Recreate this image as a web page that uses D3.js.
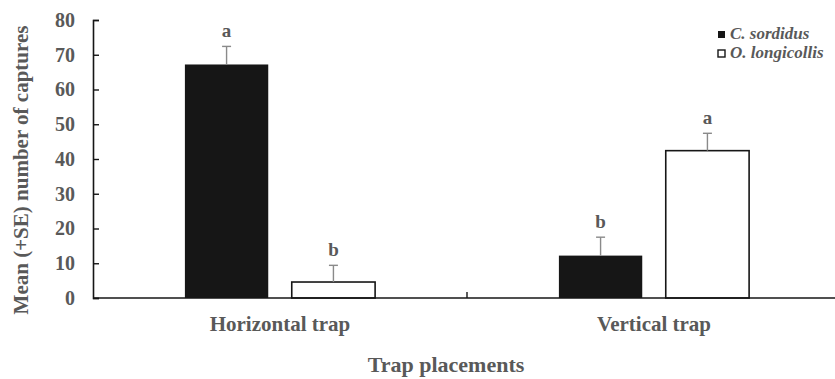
<!DOCTYPE html>
<html>
<head>
<meta charset="utf-8">
<script src="https://cdn.jsdelivr.net/npm/d3@7"></script>
<style>
body { margin: 0; background: #fff; }
text { font-family: "Liberation Serif", "Times New Roman", serif; font-weight: bold; fill: #595959; }
</style>
</head>
<body>
<svg width="835" height="379"></svg>
<script>
var placements = ["Horizontal trap", "Vertical trap"];
var species = ["C. sordidus", "O. longicollis"];
var sordidusMean = [67.2, 12.2];
var sordidusSE = [5.2, 5.3];
var longicollisMean = [4.6, 42.4];
var longicollisSE = [4.8, 5.0];
var sordidusLetters = ["a", "b"];
var longicollisLetters = ["b", "a"];
var yTicks = [0, 10, 20, 30, 40, 50, 60, 70, 80];

var rows = [];
placements.forEach(function(p, i){
  rows.push({place: p, sp: species[0], mean: sordidusMean[i], se: sordidusSE[i], letter: sordidusLetters[i]});
  rows.push({place: p, sp: species[1], mean: longicollisMean[i], se: longicollisSE[i], letter: longicollisLetters[i]});
});

var svg = d3.select('svg');

var scaleY = d3.scaleLinear().domain([0, 80]).range([298, 20]);
var scaleX = d3.scaleBand().domain(placements).range([93, 841]);
var scaleX1 = d3.scaleBand().domain(species).range([0, scaleX.bandwidth()])
  .paddingInner(0.22).paddingOuter(0.86);
var fill = d3.scaleOrdinal().domain(species).range(["#161616", "#ffffff"]);

// bars
svg.selectAll('.bar')
  .data(rows)
  .enter()
  .append('rect')
  .attr('class', 'bar')
  .attr('x', function(d){ return scaleX(d.place) + scaleX1(d.sp); })
  .attr('y', function(d){ return scaleY(d.mean); })
  .attr('width', scaleX1.bandwidth())
  .attr('height', function(d){ return scaleY(0) - scaleY(d.mean); })
  .attr('fill', function(d){ return fill(d.sp); })
  .attr('stroke', '#161616')
  .attr('stroke-width', function(d){ return d.sp == species[1] ? 1.6 : 0; });

// error bars
var err = svg.selectAll('.err')
  .data(rows)
  .enter()
  .append('g')
  .attr('class', 'err')
  .attr('transform', function(d){
    return 'translate(' + (scaleX(d.place) + scaleX1(d.sp) + scaleX1.bandwidth() / 2) + ',0)';
  });

err.append('line')
  .attr('y1', function(d){ return scaleY(d.mean); })
  .attr('y2', function(d){ return scaleY(d.mean + d.se); })
  .attr('stroke', '#8a8a8a').attr('stroke-width', 1.4);

err.append('line')
  .attr('x1', -4.5).attr('x2', 4.5)
  .attr('y1', function(d){ return scaleY(d.mean + d.se); })
  .attr('y2', function(d){ return scaleY(d.mean + d.se); })
  .attr('stroke', '#8a8a8a').attr('stroke-width', 1.4);

err.append('text')
  .attr('y', function(d){ return scaleY(d.mean + d.se) - 9; })
  .attr('text-anchor', 'middle')
  .style('font-size', '19px')
  .text(function(d){ return d.letter; });

// y axis
var yAxis = svg.append('g')
  .attr('transform', 'translate(93,0)')
  .call(d3.axisLeft(scaleY).tickValues(yTicks).tickSizeInner(-6).tickSizeOuter(-6).tickPadding(18));
yAxis.select('.domain').attr('stroke', '#161616').attr('stroke-width', 1.6);
yAxis.selectAll('.tick line').attr('stroke', '#161616').attr('stroke-width', 1.4);
yAxis.selectAll('.tick text')
  .attr('fill', '#595959')
  .style('font-family', '"Liberation Serif", serif')
  .style('font-weight', 'bold')
  .style('font-size', '20px');

// x axis
var xAxis = svg.append('g')
  .attr('transform', 'translate(0,298)');
xAxis.append('line')
  .attr('x1', scaleX.range()[0]).attr('x2', scaleX.range()[1])
  .attr('stroke', '#161616').attr('stroke-width', 1.6);
xAxis.selectAll('.xtick')
  .data(placements.slice(1))
  .enter()
  .append('line')
  .attr('x1', function(d){ return scaleX(d); })
  .attr('x2', function(d){ return scaleX(d); })
  .attr('y1', 0).attr('y2', -6)
  .attr('stroke', '#161616').attr('stroke-width', 1.4);
xAxis.selectAll('.xlabel')
  .data(placements)
  .enter()
  .append('text')
  .attr('x', function(d){ return scaleX(d) + scaleX.bandwidth() / 2; })
  .attr('y', 33)
  .attr('text-anchor', 'middle')
  .style('font-size', '21px')
  .text(function(d){ return d; });

// axis titles
svg.append('text')
  .attr('transform', 'translate(28,170) rotate(-90)')
  .attr('text-anchor', 'middle')
  .style('font-size', '21px')
  .text('Mean (+SE) number of captures');

svg.append('text')
  .attr('x', 446).attr('y', 372)
  .attr('text-anchor', 'middle')
  .style('font-size', '22px')
  .text('Trap placements');

// legend
var legend = svg.selectAll('.legend')
  .data(species)
  .enter()
  .append('g')
  .attr('class', 'legend')
  .attr('transform', function(d, i){ return 'translate(718,' + (31 + i * 19) + ')'; });

legend.append('rect')
  .attr('width', 7).attr('height', 7)
  .attr('fill', function(d){ return fill(d); })
  .attr('stroke', '#161616')
  .attr('stroke-width', function(d){ return d == species[1] ? 1.4 : 0; });

legend.append('text')
  .attr('x', 12).attr('y', 8)
  .style('font-size', '17px')
  .style('font-style', 'italic')
  .text(function(d){ return d; });
</script>
</body>
</html>
